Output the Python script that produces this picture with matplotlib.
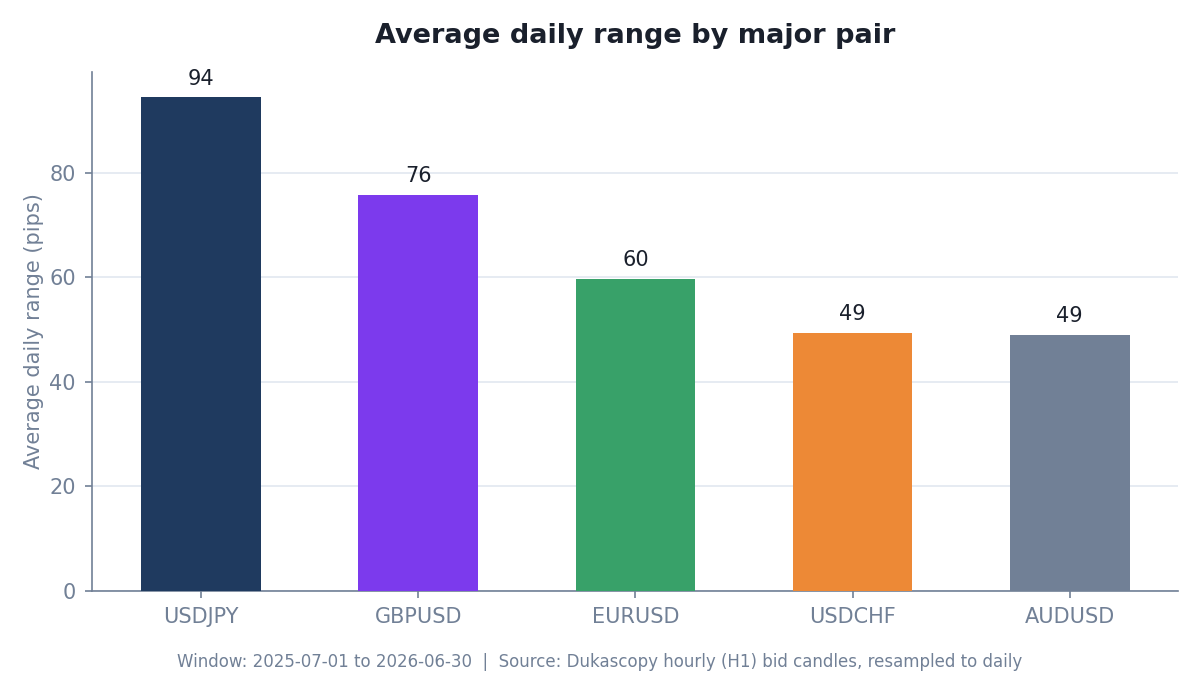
import matplotlib
matplotlib.use("Agg")
import matplotlib.pyplot as plt

pairs = ["USDJPY", "GBPUSD", "EURUSD", "USDCHF", "AUDUSD"]
avg_range = [94.5, 75.8, 59.7, 49.4, 49.0]
colors = ["#1f3a5f", "#7c3aed", "#38a169", "#ed8936", "#718096"]

text_dark = "#1a202c"
text_grey = "#718096"

fig, ax = plt.subplots(figsize=(12, 6.75), dpi=100)
fig.subplots_adjust(left=0.077, right=0.982, top=0.893, bottom=0.125)

bars = ax.bar(pairs, avg_range, width=0.55, color=colors, zorder=3)
for b, v in zip(bars, avg_range):
    ax.annotate(f"{v:.0f}", (b.get_x() + b.get_width() / 2, v),
                xytext=(0, 6), textcoords="offset points",
                ha="center", va="bottom", fontsize=15, color=text_dark)

ax.set_xlim(-0.5, 4.5)
ax.set_ylim(0, max(avg_range) * 1.05)
ax.set_yticks([0, 20, 40, 60, 80])
ax.grid(axis="y", color="#e2e8f0", linewidth=1.2, zorder=0)
ax.set_axisbelow(True)

for s in ["top", "right"]:
    ax.spines[s].set_visible(False)
for s in ["left", "bottom"]:
    ax.spines[s].set_color(text_grey)
    ax.spines[s].set_linewidth(1.2)
ax.tick_params(colors=text_grey, labelsize=15, length=5, width=1.2, pad=7)

ax.set_ylabel("Average daily range (pips)", fontsize=15, color=text_grey, labelpad=4)
ax.set_title("Average daily range by major pair", fontsize=19.5, fontweight="bold",
             color=text_dark, pad=21)
fig.text(0.5, 0.006, "Window: 2025-07-01 to 2026-06-30  |  Source: Dukascopy hourly (H1) bid candles, resampled to daily",
         ha="center", va="bottom", fontsize=12, color=text_grey)

fig.savefig("out.png", dpi=100)
